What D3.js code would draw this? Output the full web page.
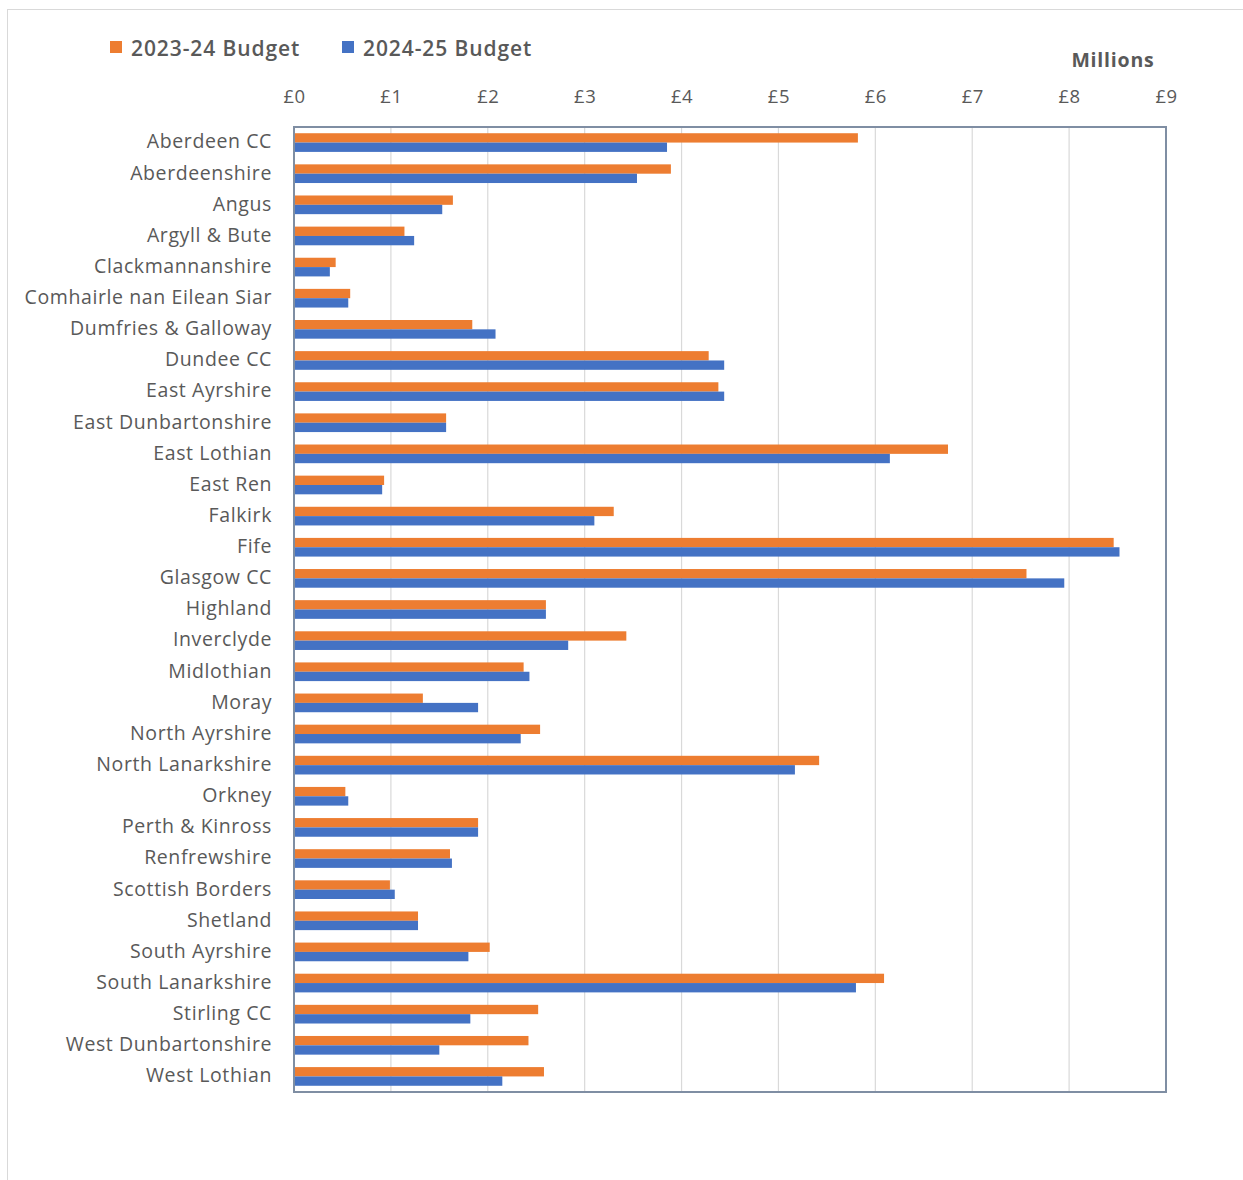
<!DOCTYPE html>
<html>
<head>
<meta charset="utf-8">
<script src="https://cdn.jsdelivr.net/npm/d3@7"></script>
<style>
  html, body { margin: 0; padding: 0; background: #fff; }
  svg { display: block; }
</style>
</head>
<body>
<svg id="chart" width="1243" height="1180"></svg>
<script>
// Council areas, top to bottom
const councils = [
  "Aberdeen CC", "Aberdeenshire", "Angus", "Argyll & Bute", "Clackmannanshire",
  "Comhairle nan Eilean Siar", "Dumfries & Galloway", "Dundee CC", "East Ayrshire",
  "East Dunbartonshire", "East Lothian", "East Ren", "Falkirk", "Fife", "Glasgow CC",
  "Highland", "Inverclyde", "Midlothian", "Moray", "North Ayrshire", "North Lanarkshire",
  "Orkney", "Perth & Kinross", "Renfrewshire", "Scottish Borders", "Shetland",
  "South Ayrshire", "South Lanarkshire", "Stirling CC", "West Dunbartonshire", "West Lothian"
];

// Budgets in £ millions
const budget2324 = [
  5.82, 3.89, 1.64, 1.14, 0.43,
  0.58, 1.84, 4.28, 4.38,
  1.57, 6.75, 0.93, 3.30, 8.46, 7.56,
  2.60, 3.43, 2.37, 1.33, 2.54, 5.42,
  0.53, 1.90, 1.61, 0.99, 1.28,
  2.02, 6.09, 2.52, 2.42, 2.58
];
const budget2425 = [
  3.85, 3.54, 1.53, 1.24, 0.37,
  0.56, 2.08, 4.44, 4.44,
  1.57, 6.15, 0.91, 3.10, 8.52, 7.95,
  2.60, 2.83, 2.43, 1.90, 2.34, 5.17,
  0.56, 1.90, 1.63, 1.04, 1.28,
  1.80, 5.80, 1.82, 1.50, 2.15
];

const seriesNames = ["2023-24 Budget", "2024-25 Budget"];
const seriesColors = ["#ED7D31", "#4472C4"];
const xTicks = [0, 1, 2, 3, 4, 5, 6, 7, 8, 9];
const tickLabel = d => "£" + d;

const rows = councils.map((c, i) => ({ name: c, values: [budget2324[i], budget2425[i]] }));

const svg = d3.select("#chart");
const font = "'Open Sans', 'Noto Sans', sans-serif";

// outer chart frame
svg.append("rect")
  .attr("x", 7.5).attr("y", 9.5)
  .attr("width", 1300).attr("height", 1300)
  .attr("fill", "none").attr("stroke", "#d9d9d9").attr("stroke-width", 1);

const plot = { left: 294, right: 1166, top: 127, bottom: 1092 };

const x = d3.scaleLinear().domain([0, 9]).range([plot.left, plot.right]);
const y = d3.scaleBand().domain(councils).range([plot.top, plot.bottom])
  .paddingInner(0.4).paddingOuter(0.2);
const ySub = d3.scaleBand().domain([0, 1]).range([0, y.bandwidth()]);

// vertical gridlines
svg.append("g")
  .selectAll("line")
  .data(xTicks.slice(1, -1))
  .join("line")
  .attr("x1", d => x(d)).attr("x2", d => x(d))
  .attr("y1", plot.top).attr("y2", plot.bottom)
  .attr("stroke", "#d9d9d9").attr("stroke-width", 1.2);

// top axis labels
const xAxis = d3.axisTop(x).tickValues(xTicks).tickFormat(tickLabel).tickSize(0).tickPadding(0);
const gx = svg.append("g").attr("transform", `translate(0,${plot.top - 24})`).call(xAxis);
gx.select(".domain").remove();
gx.selectAll("text")
  .attr("font-family", font).attr("font-size", 18.5).attr("fill", "#595959")
  .attr("letter-spacing", "0.5px");

// category labels
const yAxis = d3.axisLeft(y).tickSize(0).tickPadding(0);
const gy = svg.append("g").attr("transform", `translate(${plot.left - 22},0)`).call(yAxis);
gy.select(".domain").remove();
gy.selectAll("text")
  .attr("font-family", font).attr("font-size", 19.5).attr("fill", "#595959")
  .attr("letter-spacing", "0.6px")
  .attr("dy", "0.3em");

// bars
const groups = svg.append("g")
  .selectAll("g")
  .data(rows)
  .join("g")
  .attr("transform", d => `translate(0,${y(d.name)})`);

groups.selectAll("rect")
  .data(d => d.values.map((v, i) => ({ v, i })))
  .join("rect")
  .attr("x", x(0))
  .attr("y", d => ySub(d.i))
  .attr("width", d => x(d.v) - x(0))
  .attr("height", ySub.bandwidth())
  .attr("fill", d => seriesColors[d.i]);

// plot area border
svg.append("rect")
  .attr("x", plot.left).attr("y", plot.top)
  .attr("width", plot.right - plot.left).attr("height", plot.bottom - plot.top)
  .attr("fill", "none").attr("stroke", "#7f8ea3").attr("stroke-width", 2);

// units label
svg.append("text")
  .attr("x", 1113).attr("y", 67)
  .attr("text-anchor", "middle")
  .attr("font-family", font).attr("font-size", 19.5).attr("font-weight", 700)
  .attr("letter-spacing", "0.8px")
  .attr("fill", "#595959")
  .text("Millions");

// legend
const legendItems = [{ x: 110 }, { x: 342 }];
const legend = svg.append("g");
legendItems.forEach((item, i) => {
  legend.append("rect")
    .attr("x", item.x).attr("y", 41).attr("width", 12).attr("height", 12)
    .attr("fill", seriesColors[i]);
  legend.append("text")
    .attr("x", item.x + 21).attr("y", 56)
    .attr("font-family", font).attr("font-size", 21).attr("font-weight", 600)
    .attr("letter-spacing", "0.9px")
    .attr("fill", "#595959")
    .text(seriesNames[i]);
});
</script>
</body>
</html>
